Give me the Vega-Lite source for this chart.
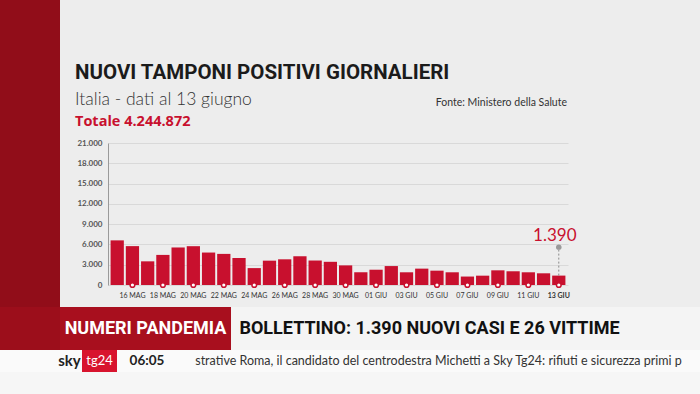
{
  "$schema": "https://vega.github.io/schema/vega-lite/v6.json",
  "background": "#ededed",
  "padding": 0,
  "spacing": 0,
  "config": {
    "view": {"stroke": null},
    "concat": {"spacing": 0},
    "locale": {"number": {"decimal": ",", "thousands": ".", "grouping": [3], "currency": ["€", ""]}}
  },
  "vconcat": [
    {
      "spacing": 15,
      "hconcat": [
        {
          "width": 60, "height": 307,
          "view": {"fill": "#910d19", "stroke": null},
          "data": {"values": [{}]},
          "mark": {"type": "text"},
          "encoding": {"text": {"value": ""}}
        },
        {
          "spacing": 0,
          "vconcat": [
            {
              "width": 1, "height": 63,
              "data": {"values": [{}]},
              "mark": {"type": "text"},
              "encoding": {"text": {"value": ""}}
            },
            {
              "width": 459, "height": 0,
              "title": {
                "text": "NUOVI TAMPONI POSITIVI GIORNALIERI",
                "subtitle": "Italia - dati al 13 giugno",
                "anchor": "start", "dx": -33, "dy": 10,
                "font": "Roboto", "fontSize": 20.5, "fontWeight": "bold", "color": "#1b1b1b",
                "subtitleFont": "Lato", "subtitleFontSize": 17.5, "subtitleFontWeight": 300,
                "subtitleColor": "#333333", "subtitlePadding": 7, "offset": -5
              },
              "data": {"values": [{"t": "Fonte: Ministero della Salute"}]},
              "mark": {"type": "text", "align": "right", "baseline": "alphabetic", "font": "Lato", "fontSize": 10.5, "color": "#333333", "dy": 3},
              "encoding": {"text": {"field": "t"}, "x": {"value": "width"}}
            },
            {
              "width": 460, "height": 142,
              "title": {"text": "Totale 4.244.872", "anchor": "start", "font": "Open Sans", "fontSize": 14.5, "fontWeight": "bold", "color": "#c8102e", "offset": 10},
              "data": {"values": [
                {"giorno": "15 MAG", "casi": 6600},
                {"giorno": "16 MAG", "casi": 5750},
                {"giorno": "17 MAG", "casi": 3500},
                {"giorno": "18 MAG", "casi": 4450},
                {"giorno": "19 MAG", "casi": 5550},
                {"giorno": "20 MAG", "casi": 5740},
                {"giorno": "21 MAG", "casi": 4800},
                {"giorno": "22 MAG", "casi": 4600},
                {"giorno": "23 MAG", "casi": 4000},
                {"giorno": "24 MAG", "casi": 2500},
                {"giorno": "25 MAG", "casi": 3600},
                {"giorno": "26 MAG", "casi": 3800},
                {"giorno": "27 MAG", "casi": 4250},
                {"giorno": "28 MAG", "casi": 3620},
                {"giorno": "29 MAG", "casi": 3430},
                {"giorno": "30 MAG", "casi": 2900},
                {"giorno": "31 MAG", "casi": 1900},
                {"giorno": "01 GIU", "casi": 2260},
                {"giorno": "02 GIU", "casi": 2800},
                {"giorno": "03 GIU", "casi": 1880},
                {"giorno": "04 GIU", "casi": 2420},
                {"giorno": "05 GIU", "casi": 2120},
                {"giorno": "06 GIU", "casi": 1880},
                {"giorno": "07 GIU", "casi": 1250},
                {"giorno": "08 GIU", "casi": 1380},
                {"giorno": "09 GIU", "casi": 2170},
                {"giorno": "10 GIU", "casi": 2030},
                {"giorno": "11 GIU", "casi": 1880},
                {"giorno": "12 GIU", "casi": 1730},
                {"giorno": "13 GIU", "casi": 1390}
              ]},
              "encoding": {
                "x": {
                  "field": "giorno", "type": "ordinal", "sort": null,
                  "scale": {"paddingInner": 0.13, "paddingOuter": 0.17},
                  "axis": {
                    "values": ["16 MAG", "18 MAG", "20 MAG", "22 MAG", "24 MAG", "26 MAG", "28 MAG", "30 MAG", "01 GIU", "03 GIU", "05 GIU", "07 GIU", "09 GIU", "11 GIU", "13 GIU"],
                    "title": null, "labelAngle": 0, "ticks": false, "domain": false,
                    "labelFont": "Lato", "labelFontSize": 7, "labelColor": "#333333", "labelPadding": 6,
                    "labelFontWeight": {"condition": {"test": "datum.label === '13 GIU'", "value": "bold"}, "value": "normal"}
                  }
                }
              },
              "resolve": {"axis": {"y": "independent"}},
              "layer": [
                {
                  "mark": {"type": "bar", "color": "#c8102e"},
                  "encoding": {
                    "y": {
                      "field": "casi", "type": "quantitative",
                      "scale": {"domain": [0, 21000], "nice": false},
                      "axis": {
                        "values": [0, 3000, 6000, 9000, 12000, 15000, 18000, 21000],
                        "labelOverlap": false,
                        "format": ",d", "title": null, "ticks": false,
                        "domainColor": "#9a9a9a", "gridColor": "#d9d9d9",
                        "labelFont": "Lato", "labelFontSize": 8, "labelFontWeight": "bold", "labelColor": "#555555",
                        "labelPadding": 6, "minExtent": 33, "maxExtent": 33, "zindex": 0
                      }
                    }
                  }
                },
                {
                  "transform": [{"filter": {"field": "giorno", "oneOf": ["16 MAG", "18 MAG", "20 MAG", "22 MAG", "24 MAG", "26 MAG", "28 MAG", "30 MAG", "01 GIU", "03 GIU", "05 GIU", "07 GIU", "09 GIU", "11 GIU", "13 GIU"]}}],
                  "mark": {"type": "point", "filled": true, "fill": "white", "stroke": "#c8102e", "strokeWidth": 1.5, "size": 22, "opacity": 1},
                  "encoding": {
                    "y": {
                      "datum": 0, "type": "quantitative",
                      "axis": {
                        "orient": "left",
                        "values": [1500, 4500, 7500, 10500, 13500, 16500, 19500],
                        "labels": false, "ticks": false, "domain": false, "title": null,
                        "gridColor": "#dedede", "minExtent": 0, "maxExtent": 0, "zindex": 0
                      }
                    }
                  }
                },
                {
                  "transform": [{"filter": "datum.giorno === '13 GIU'"}],
                  "mark": {"type": "rule", "strokeDash": [2, 2], "color": "#8a8a8a", "strokeWidth": 1},
                  "encoding": {"y": {"field": "casi", "type": "quantitative", "axis": null}, "y2": {"datum": 5600}}
                },
                {
                  "transform": [{"filter": "datum.giorno === '13 GIU'"}],
                  "mark": {"type": "point", "filled": true, "color": "#9a9a9a", "size": 30, "opacity": 1},
                  "encoding": {"y": {"datum": 5600, "type": "quantitative", "axis": null}}
                },
                {
                  "transform": [{"filter": "datum.giorno === '13 GIU'"}],
                  "mark": {"type": "text", "color": "#c8102e", "font": "Lato", "fontSize": 17, "dx": -4, "baseline": "middle"},
                  "encoding": {
                    "y": {"datum": 7200, "type": "quantitative", "axis": null},
                    "text": {"field": "casi", "type": "quantitative", "format": ",d"}
                  }
                }
              ]
            }
          ]
        }
      ]
    },
    {
      "spacing": 0,
      "hconcat": [
        {
          "width": 60, "height": 43,
          "view": {"fill": "#9c0e1b", "stroke": null},
          "data": {"values": [{}]},
          "mark": {"type": "text"},
          "encoding": {"text": {"value": ""}}
        },
        {
          "width": 171, "height": 43,
          "view": {"fill": "#a80f1e", "stroke": null},
          "data": {"values": [{"t": "NUMERI PANDEMIA"}]},
          "mark": {"type": "text", "font": "Roboto", "fontSize": 18, "fontWeight": "bold", "color": "white", "baseline": "middle"},
          "encoding": {"text": {"field": "t"}}
        },
        {
          "width": 397, "height": 43,
          "view": {"fill": "#f4f4f4", "stroke": null},
          "data": {"values": [{"t": "BOLLETTINO: 1.390 NUOVI CASI E 26 VITTIME"}]},
          "mark": {"type": "text", "font": "Roboto", "fontSize": 18, "fontWeight": "bold", "color": "#111111", "baseline": "middle"},
          "encoding": {"text": {"field": "t"}}
        },
        {
          "width": 72, "height": 43,
          "view": {"fill": "#f4f4f4", "stroke": null},
          "data": {"values": [{}]},
          "mark": {"type": "text"},
          "encoding": {"text": {"value": ""}}
        }
      ]
    },
    {
      "spacing": 0,
      "hconcat": [
        {
          "width": 57, "height": 22,
          "view": {"fill": "#fafafa", "stroke": null},
          "data": {"values": [{}]},
          "mark": {"type": "text"},
          "encoding": {"text": {"value": ""}}
        },
        {
          "width": 25, "height": 22,
          "view": {"fill": "#fafafa", "stroke": null},
          "data": {"values": [{"t": "sky"}]},
          "mark": {"type": "text", "font": "Lato", "fontSize": 15, "fontWeight": "bold", "color": "#222222", "baseline": "middle"},
          "encoding": {"text": {"field": "t"}}
        },
        {
          "width": 35, "height": 22,
          "view": {"fill": "#d8142e", "stroke": null},
          "data": {"values": [{"t": "tg24"}]},
          "mark": {"type": "text", "font": "Lato", "fontSize": 13, "color": "white", "baseline": "middle"},
          "encoding": {"text": {"field": "t"}}
        },
        {
          "width": 60, "height": 22,
          "view": {"fill": "#fafafa", "stroke": null},
          "data": {"values": [{"t": "06:05"}]},
          "mark": {"type": "text", "font": "Lato", "fontSize": 13.5, "fontWeight": "bold", "color": "#222222", "baseline": "middle"},
          "encoding": {"text": {"field": "t"}}
        },
        {
          "width": 523, "height": 22,
          "view": {"fill": "#fafafa", "stroke": null},
          "data": {"values": [{"t": "strative Roma, il candidato del centrodestra Michetti a Sky Tg24: rifiuti e sicurezza primi p"}]},
          "mark": {"type": "text", "font": "Lato", "fontSize": 12.5, "color": "#333333", "baseline": "middle", "limit": 523, "ellipsis": "\u200b"},
          "encoding": {"text": {"field": "t"}}
        }
      ]
    },
    {
      "width": 700, "height": 22,
      "view": {"fill": "#f6f6f6", "stroke": null},
      "data": {"values": [{}]},
      "mark": {"type": "text"},
      "encoding": {"text": {"value": ""}}
    }
  ]
}
